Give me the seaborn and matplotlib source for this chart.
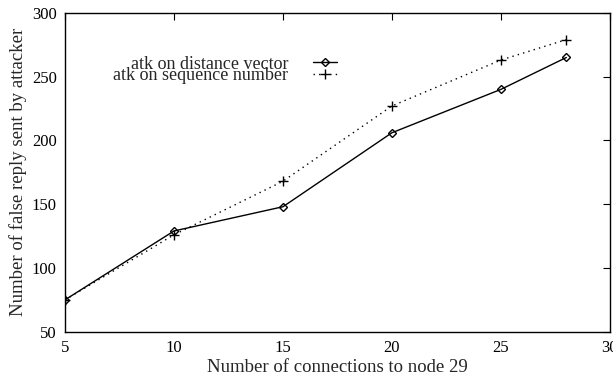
import matplotlib
matplotlib.use("Agg")
import matplotlib.pyplot as plt
import seaborn as sns
import pandas as pd

connections_dv = [5, 10, 15, 20, 25, 28]
replies_dv = [75, 129, 148, 206, 240, 265]
connections_sn = [5, 10, 15, 20, 25, 28]
replies_sn = [75, 126, 168, 227, 263, 279]
label_dv = "atk on distance vector"
label_sn = "atk on sequence number"
x_ticks = [5, 10, 15, 20, 25, 30]
y_ticks = [50, 100, 150, 200, 250, 300]

sns.set_style("white")
plt.rcParams["font.family"] = ["Liberation Serif", "DejaVu Serif"]
plt.rcParams["font.size"] = 12

fig = plt.figure(figsize=(6.13, 3.77), dpi=100)
ax = fig.add_axes([0.106, 0.120, 0.889, 0.846])

df_dv = pd.DataFrame({"x": connections_dv, "y": replies_dv})
df_sn = pd.DataFrame({"x": connections_sn, "y": replies_sn})

sns.lineplot(data=df_dv, x="x", y="y", ax=ax, color="black", linewidth=1.0,
             marker="D", markersize=4.5, markerfacecolor="none",
             markeredgecolor="black", markeredgewidth=1.0, label=label_dv)
sns.lineplot(data=df_sn, x="x", y="y", ax=ax, color="black", linewidth=1.0,
             linestyle=(0, (1, 3)), marker="+", markersize=7,
             markeredgewidth=1.0, markeredgecolor="black", label=label_sn)

ax.set_xlim(5, 30)
ax.set_ylim(50, 300)
ax.set_xticks(x_ticks)
ax.set_yticks(y_ticks)
ax.tick_params(direction="in", length=5, width=0.8, top=True, right=True,
               labelsize=12, colors="black", pad=6)
for s in ax.spines.values():
    s.set_color("black")
    s.set_linewidth(1.0)
    s.set_visible(True)

ax.set_xlabel("Number of connections to node 29", fontsize=13.5, labelpad=2)
ax.set_ylabel("Number of false reply sent by attacker", fontsize=13.5, labelpad=3)

leg = ax.legend(loc="upper right", bbox_to_anchor=(0.499, 0.866), frameon=False,
                markerfirst=False, handlelength=1.3, handletextpad=1.4,
                labelspacing=-0.3, borderpad=0.0, borderaxespad=0.0, fontsize=13)

fig.savefig("out.png", dpi=100)
